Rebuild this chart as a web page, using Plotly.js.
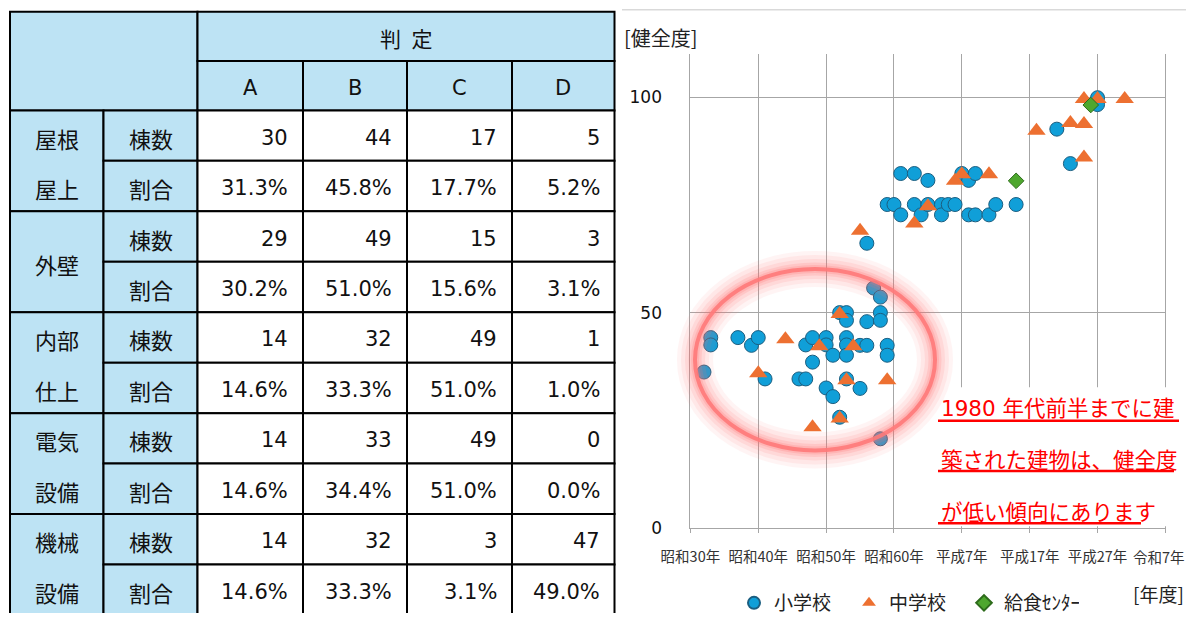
<!DOCTYPE html>
<html><head><meta charset="utf-8">
<script src="https://cdn.plot.ly/plotly-3.0.1.min.js"></script>
<style>html,body{margin:0;padding:0;background:#fff;overflow:hidden;} #chart{width:1186px;height:622px;}</style>
</head><body><div id="chart"></div>
<script>
// ---------------- data ----------------
const tableHeader = '判\u2002定';
const gradeLabels = ['A', 'B', 'C', 'D'];
const rowKinds = ['棟数', '割合'];
const categoryLines = [['屋根', '屋上'], ['外壁'], ['内部', '仕上'], ['電気', '設備'], ['機械', '設備']];
const buildingCounts = [[30, 44, 17, 5], [29, 49, 15, 3], [14, 32, 49, 1], [14, 33, 49, 0], [14, 32, 3, 47]];
const buildingRatios = [[31.3, 45.8, 17.7, 5.2], [30.2, 51.0, 15.6, 3.1], [14.6, 33.3, 51.0, 1.0], [14.6, 34.4, 51.0, 0.0], [14.6, 33.3, 3.1, 49.0]];

const seriesNames = ['小学校', '中学校', '給食ｾﾝﾀｰ'];
const elemYear  = [1957,1958,1958,1962,1964,1965,1966,1971,1972,1972,1973,1973,1975,1975,1975,1976,1976,1977,1977,1978,1978,1978,1978,1978,1978,1980,1980,1981,1981,1981,1982,1983,1983,1983,1983,1984,1984,1984,1985,1986,1986,1988,1988,1989,1990,1990,1992,1992,1993,1994,1995,1996,1996,1997,1997,1999,2000,2003,2009,2011,2015,2015];
const elemScore = [36.2,44.2,42.5,44.2,42.4,44.2,34.6,34.6,34.6,42.5,44.2,38.5,44.2,42.5,32.5,40.1,30.5,25.7,50.0,50.0,48.2,44.2,42.5,40.1,34.6,42.4,32.4,42.4,47.9,66.1,55.7,50.0,48.2,53.6,20.7,42.4,40.1,75.1,75.1,82.3,72.7,82.3,75.1,72.7,80.7,75.1,75.1,72.7,75.1,75.1,82.3,80.7,72.7,82.3,72.7,72.7,75.1,75.1,92.6,84.6,99.9,98.3];
const juniorYear  = [1965,1969,1973,1974,1977,1977,1978,1979,1980,1984,1988,1990,1994,1995,1999,2006,2011,2013,2013,2013,2015,2019];
const juniorScore = [35.9,43.8,23.4,42.2,49.7,25.4,34.3,42.2,69.0,34.3,70.7,74.7,80.6,82.1,82.1,92.2,94.0,93.8,86.0,99.6,99.6,99.6];
const centerYear  = [2003, 2014];
const centerScore = [80.6, 98.2];

const xTickVals = [1955, 1965, 1975, 1985, 1995, 2005, 2015, 2025];
const xTickText = ['昭和30年', '昭和40年', '昭和50年', '昭和60年', '平成7年', '平成17年', '平成27年', '令和7年'];
const yTickVals = [0, 50, 100];
const noteLines = ['1980 年代前半までに建', '築された建物は、健全度', 'が低い傾向にあります'];

// ---------------- layout geometry ----------------
const W = 1186, H = 622;
const JP = 'Noto Sans CJK JP, sans-serif';
const NUM = 'DejaVu Sans, Noto Sans CJK JP, sans-serif';
const BLUE = '#bde3f4';
const colEdges = [10, 103.5, 197.5, 303, 407, 512, 614.5];
const headEdges = [12, 62, 112];
const rowH = 51.2;
const rowTop = r => 112 + r * rowH;
const P = x => x / W;
const Q = y => 1 - y / H;

const shapes = [];
const ann = [];
function cell(c0, c1, y0, y1, fill) {
  shapes.push({type: 'rect', xref: 'x2', yref: 'y2', x0: colEdges[c0], x1: colEdges[c1], y0: y0, y1: y1,
    fillcolor: fill, line: {color: '#000', width: 2}, layer: 'above'});
}
function txt(x, y, t, anchor, font) {
  ann.push({xref: 'x2', yref: 'y2', x: x, y: y, text: t, showarrow: false, xanchor: anchor, yanchor: 'middle', font: font});
}
const jpFont = {family: JP, size: 22, color: '#111'};
const numFont = {family: NUM, size: 21, color: '#111'};

// header
cell(0, 2, headEdges[0], headEdges[2], BLUE);
cell(2, 6, headEdges[0], headEdges[1], BLUE);
txt((colEdges[2] + colEdges[6]) / 2, (headEdges[0] + headEdges[1]) / 2 + 2, tableHeader, 'center', {family: JP, size: 21, color: '#111'});
gradeLabels.forEach((g, i) => {
  cell(2 + i, 3 + i, headEdges[1], headEdges[2], BLUE);
  txt((colEdges[2 + i] + colEdges[3 + i]) / 2, (headEdges[1] + headEdges[2]) / 2 + 2, g, 'center', numFont);
});
// body
categoryLines.forEach((lines, k) => {
  const r0 = 2 * k;
  const yA = rowTop(r0), yB = rowTop(r0 + 1), yC = rowTop(r0 + 2);
  cell(0, 1, yA, yC, BLUE);
  const cx = (colEdges[0] + colEdges[1]) / 2;
  if (lines.length === 2) {
    txt(cx, (yA + yB) / 2 + 2, lines[0], 'center', jpFont);
    txt(cx, (yB + yC) / 2 + 2, lines[1], 'center', jpFont);
  } else {
    txt(cx, yB + 2, lines[0], 'center', jpFont);
  }
  [yA, yB].forEach((yy, j) => {
    cell(1, 2, yy, yy + rowH, BLUE);
    txt((colEdges[1] + colEdges[2]) / 2, yy + rowH / 2 + 2, rowKinds[j], 'center', jpFont);
    for (let i = 0; i < 4; i++) {
      cell(2 + i, 3 + i, yy, yy + rowH, '#ffffff');
      const t = j === 0 ? String(buildingCounts[k][i]) : buildingRatios[k][i].toFixed(1) + '%';
      txt(colEdges[3 + i] - 13, yy + rowH / 2 + 2, t, 'right', numFont);
    }
  });
});

// chart decorations (paper coords)
shapes.push({type: 'line', xref: 'paper', yref: 'paper', x0: P(622), x1: P(1186), y0: Q(10), y1: Q(10), line: {color: '#d9d9d9', width: 1.5}, layer: 'above'});
shapes.push({type: 'rect', xref: 'paper', yref: 'paper', x0: P(936), x1: P(1186), y0: Q(393), y1: Q(534), fillcolor: '#ffffff', line: {width: 0}, layer: 'above'});
const ulEnds = [1179, 1174, 1141];
const textY = [414, 465, 518];
noteLines.forEach((t, i) => {
  ann.push({xref: 'paper', yref: 'paper', x: P(939), y: Q(textY[i]), text: t, showarrow: false, xanchor: 'left', yanchor: 'middle',
    font: {family: i === 0 ? NUM : JP, size: 21.5, color: '#ff0000'}});
  shapes.push({type: 'line', xref: 'paper', yref: 'paper', x0: P(938), x1: P(ulEnds[i]), y0: Q(textY[i] + 13), y1: Q(textY[i] + 13),
    line: {color: '#ff0000', width: 2.5}, layer: 'above'});
});
// glowing ellipse
const ex0 = 695, ex1 = 935, ey0 = 273, ey1 = 457;
[[36, 0.07], [28, 0.09], [20, 0.12], [13, 0.16], [8, 0.2]].forEach(([w, o]) => {
  shapes.push({type: 'circle', xref: 'paper', yref: 'paper', x0: P(ex0), x1: P(ex1), y0: Q(ey1), y1: Q(ey0),
    line: {color: '#ff6f6f', width: w}, opacity: o, layer: 'above'});
});
shapes.push({type: 'circle', xref: 'paper', yref: 'paper', x0: P(ex0), x1: P(ex1), y0: Q(ey1), y1: Q(ey0),
  line: {color: '#ff7a7a', width: 4}, opacity: 0.9, layer: 'above'});

ann.push({xref: 'paper', yref: 'paper', x: P(622), y: Q(38), text: '[健全度]', showarrow: false, xanchor: 'left', yanchor: 'middle', font: {family: JP, size: 20, color: '#222'}});
ann.push({xref: 'paper', yref: 'paper', x: P(1186), y: Q(602), text: '[年度]', showarrow: false, xanchor: 'right', yanchor: 'middle', font: {family: JP, size: 19, color: '#222'}});

// the last tick label would overflow the page edge; it is drawn flush with the right edge instead
const lastTick = xTickText.length - 1;
const tickTextShown = xTickText.map((t, i) => i === lastTick ? '' : t);
const tickFont = {family: JP, size: 14.5, color: '#333'};
ann.push({xref: 'paper', yref: 'paper', x: 1, y: Q(565), text: xTickText[lastTick], showarrow: false, xanchor: 'right', yanchor: 'middle',
  font: tickFont, borderpad: 0});

const traces = [
  {type: 'scatter', mode: 'markers', name: seriesNames[0], x: elemYear, y: elemScore, xaxis: 'x', yaxis: 'y',
    marker: {symbol: 'circle', size: 14, color: '#109fd8', line: {color: '#1b5e80', width: 1}}},
  {type: 'scatter', mode: 'markers', name: seriesNames[1], x: juniorYear, y: juniorScore, xaxis: 'x', yaxis: 'y',
    marker: {symbol: 'triangle-up', size: 16, color: '#ed7031', line: {width: 0}}},
  {type: 'scatter', mode: 'markers', name: seriesNames[2], x: centerYear, y: centerScore, xaxis: 'x', yaxis: 'y',
    marker: {symbol: 'diamond', size: 12, color: '#4ea72e', line: {color: '#2d6b1b', width: 1}}}
];

const layout = {
  width: W, height: H, margin: {l: 0, r: 0, t: 0, b: 0},
  paper_bgcolor: '#fff', plot_bgcolor: 'rgba(0,0,0,0)',
  font: {family: JP, color: '#222'},
  xaxis: {domain: [P(690.4), P(1165.4)], range: [1955, 2025], tickvals: xTickVals, ticktext: tickTextShown,
    showgrid: true, gridcolor: '#a6a6a6', gridwidth: 1, showline: true, linecolor: '#a6a6a6', linewidth: 1,
    ticks: 'outside', ticklen: 4, tickcolor: '#a6a6a6', zeroline: false, ticklabelstandoff: 12,
    tickfont: tickFont, anchor: 'y'},
  yaxis: {domain: [Q(535.7), Q(55)], range: [0, 110], tickvals: yTickVals, showgrid: true, gridcolor: '#a6a6a6', gridwidth: 1,
    showline: true, mirror: true, linecolor: '#a6a6a6', linewidth: 1, zeroline: false, ticks: '',
    ticklabelstandoff: 24, tickfont: {family: NUM, size: 17, color: '#111'}, anchor: 'x'},
  xaxis2: {domain: [0, P(620)], range: [0, 620], visible: false, anchor: 'y2', fixedrange: true},
  yaxis2: {domain: [0, 1], range: [622, 0], visible: false, anchor: 'x2', fixedrange: true},
  showlegend: true,
  legend: {orientation: 'h', x: P(734), xanchor: 'left', y: Q(612), yanchor: 'middle', font: {family: JP, size: 19, color: '#222'},
    bgcolor: 'rgba(0,0,0,0)', itemsizing: 'constant', entrywidth: 70, entrywidthmode: 'pixels'},
  shapes: shapes, annotations: ann
};
Plotly.newPlot('chart', traces, layout, {staticPlot: true, displayModeBar: false});
</script></body></html>
